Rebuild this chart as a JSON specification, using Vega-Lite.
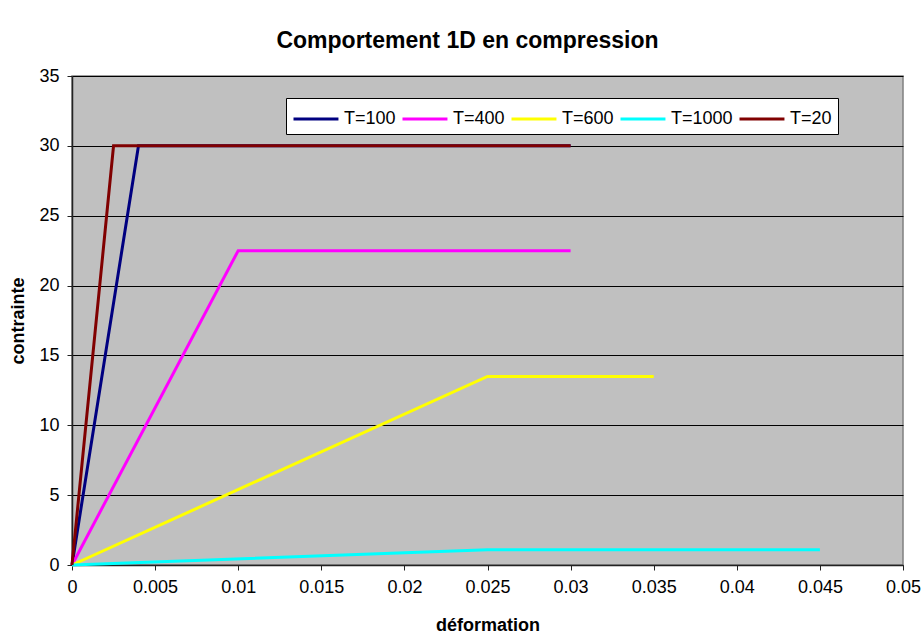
{
  "$schema": "https://vega.github.io/schema/vega-lite/v6.json",
  "autosize": {"type": "none"},
  "width": 831,
  "height": 489,
  "padding": {"left": 72, "top": 76, "right": 21, "bottom": 79},
  "background": "white",
  "title": {
    "text": "Comportement 1D en compression",
    "anchor": "middle",
    "frame": "group",
    "dx": -20,
    "offset": 14,
    "font": "Liberation Sans",
    "fontSize": 23,
    "fontWeight": "bold",
    "color": "black"
  },
  "data": {
    "values": [
      {"serie": "T=100", "def": 0, "contrainte": 0},
      {"serie": "T=100", "def": 0.004, "contrainte": 30},
      {"serie": "T=100", "def": 0.03, "contrainte": 30},
      {"serie": "T=400", "def": 0, "contrainte": 0},
      {"serie": "T=400", "def": 0.01, "contrainte": 22.5},
      {"serie": "T=400", "def": 0.03, "contrainte": 22.5},
      {"serie": "T=600", "def": 0, "contrainte": 0},
      {"serie": "T=600", "def": 0.025, "contrainte": 13.5},
      {"serie": "T=600", "def": 0.035, "contrainte": 13.5},
      {"serie": "T=1000", "def": 0, "contrainte": 0},
      {"serie": "T=1000", "def": 0.025, "contrainte": 1.1},
      {"serie": "T=1000", "def": 0.045, "contrainte": 1.1},
      {"serie": "T=20", "def": 0, "contrainte": 0},
      {"serie": "T=20", "def": 0.0025, "contrainte": 30},
      {"serie": "T=20", "def": 0.03, "contrainte": 30}
    ]
  },
  "mark": {"type": "line", "strokeWidth": 3, "clip": false},
  "encoding": {
    "x": {
      "field": "def",
      "type": "quantitative",
      "scale": {"domain": [0, 0.05], "nice": false, "zero": true},
      "axis": {
        "title": "déformation",
        "values": [0, 0.005, 0.01, 0.015, 0.02, 0.025, 0.03, 0.035, 0.04, 0.045, 0.05],
        "format": ".3~f",
        "grid": false,
        "labelFlush": false,
        "labelOverlap": false,
        "labelPadding": 8,
        "titlePadding": 20
      }
    },
    "y": {
      "field": "contrainte",
      "type": "quantitative",
      "scale": {"domain": [0, 35], "nice": false},
      "axis": {
        "title": "contrainte",
        "values": [0, 5, 10, 15, 20, 25, 30, 35],
        "grid": true,
        "gridColor": "black",
        "gridOpacity": 1,
        "gridWidth": 1,
        "labelPadding": 8,
        "titlePadding": 11
      }
    },
    "color": {
      "field": "serie",
      "type": "nominal",
      "sort": null,
      "scale": {
        "domain": ["T=100", "T=400", "T=600", "T=1000", "T=20"],
        "range": ["#000080", "#FF00FF", "#FFFF00", "#00FFFF", "#800000"]
      },
      "legend": {
        "title": null,
        "orient": "none",
        "legendX": 214,
        "legendY": 22,
        "direction": "horizontal",
        "columns": 5,
        "gridAlign": "each",
        "symbolType": "M-1,0H2.33",
        "symbolSize": 729,
        "symbolStrokeWidth": 3,
        "symbolFillColor": "transparent",
        "labelOffset": 22,
        "columnPadding": 0,
        "padding": 6,
        "fillColor": "white",
        "strokeColor": "black",
        "labelFont": "Liberation Sans",
        "labelFontSize": 18,
        "labelColor": "black"
      }
    }
  },
  "config": {
    "view": {"fill": "#C0C0C0", "stroke": "#808080", "strokeWidth": 1.5},
    "axis": {
      "labelFont": "Liberation Sans",
      "labelFontSize": 18,
      "labelColor": "black",
      "titleFont": "Liberation Sans",
      "titleFontSize": 18,
      "titleFontWeight": "bold",
      "titleColor": "black",
      "domainColor": "#222222",
      "domainWidth": 1.5,
      "tickColor": "#222222",
      "tickSize": 5,
      "tickWidth": 1
    }
  }
}
